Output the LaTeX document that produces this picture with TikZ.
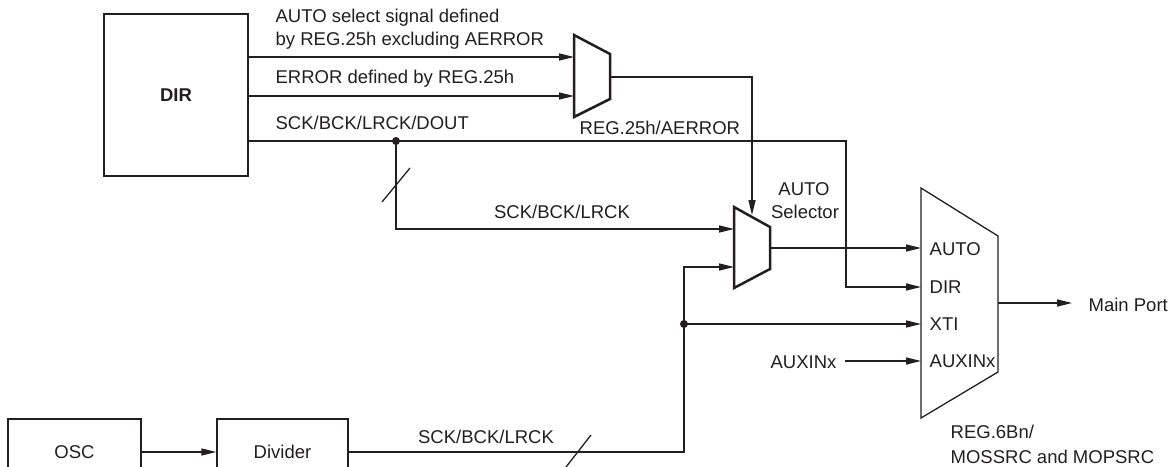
\documentclass[tikz,border=0pt]{standalone}
\usepackage{fontspec}
\setmainfont{Liberation Sans}
\usetikzlibrary{arrows.meta}
\definecolor{ink}{RGB}{35,31,32}
\begin{document}
\begin{tikzpicture}[x=1pt,y=-1pt,draw=ink,line width=1.3pt,
  every node/.style={font=\fontsize{18.5}{23}\selectfont,text=ink,inner sep=0pt},
  lbl/.style={anchor=base west},
  blk/.style={draw=ink,line width=1.5pt,minimum width=#1,minimum height=66pt},
  arr/.style={-{Triangle[length=15pt,width=7pt]}},
  muxthick/.style={line width=2.5pt,line join=miter},
  muxthin/.style={line width=1.3pt,line join=miter},
  slash/.style={line width=1.3pt}]
\clip (0,0) rectangle (1172,466);
\fill[white] (0,0) rectangle (1172,466);

% blocks
\node[draw=ink,line width=2.4pt,minimum width=144pt,minimum height=162pt,font=\fontsize{18.5}{23}\selectfont\bfseries] (DIR) at (176,95) {DIR};
\node[blk=133pt] (OSC) at (74.5,452) {\raisebox{-2pt}{OSC}};
\node[blk=131pt] (DIV) at (282.5,452) {\raisebox{-2pt}{Divider}};

% multiplexers
\draw[muxthick] (574,35) -- (610,54) -- (610,99) -- (574,117) -- cycle;
\draw[muxthick] (734,207) -- (770,227) -- (770,269) -- (734,288) -- cycle;
\draw[muxthin] (921,188) -- (998,236) -- (998,372) -- (921,418) -- cycle;

% ports
\coordinate (m1in1) at (574,57);
\coordinate (m1in2) at (574,96);
\coordinate (m1out) at (610,77);
\coordinate (m2in1) at (734,229);
\coordinate (m2in2) at (734,267);
\coordinate (m2out) at (770,248);
\coordinate (m2top) at (752,215);
\coordinate (m3auto) at (921,248);
\coordinate (m3dir) at (921,287);
\coordinate (m3xti) at (921,324);
\coordinate (m3aux) at (921,361);
\coordinate (m3out) at (998,303);
\coordinate (j1) at (396,141);
\coordinate (j2) at (684,324);
\coordinate (mainend) at (1072,303);

% labels
\node[lbl] (t1) at (275,22) {AUTO select signal defined};
\node[lbl] (t2) at (275,45) {by REG.25h excluding AERROR};
\node[lbl] (t3) at (275,83) {ERROR defined by REG.25h};
\node[lbl] (t4) at (275,129) {SCK/BCK/LRCK/DOUT};
\node[lbl] (t5) at (579,134) {REG.25h/AERROR};
\node[anchor=base] (t6) at (804,195) {AUTO};
\node[anchor=base] (t7) at (805,218) {Selector};
\node[anchor=base] (t8) at (562,218) {SCK/BCK/LRCK};
\node[anchor=base] (t9) at (486,443) {SCK/BCK/LRCK};
\node[lbl] (p1) at (929,255) {AUTO};
\node[lbl] (p2) at (929,293) {DIR};
\node[lbl] (p3) at (929,330) {XTI};
\node[lbl] (p4) at (929,367) {AUXINx};
\node[anchor=base east] (aux) at (837,368) {AUXINx};
\node[lbl] (mp) at (1088,311) {Main Port};
\node[lbl] (r1) at (950,438) {REG.6Bn/};
\node[lbl] (r2) at (950,463) {MOSSRC and MOPSRC};

% connectors
\draw[arr] (DIR.east |- m1in1) -- (m1in1);
\draw[arr] (DIR.east |- m1in2) -- (m1in2);
\draw[arr] (DIR.east |- j1) -- (846,141) -- (846,287) -- (m3dir);
\draw[arr] (j1) -- (j1 |- m2in1) -- (m2in1);
\draw[arr] (m1out) -- (m2top |- m1out) -- (m2top);
\draw[arr] (m2out) -- (m3auto);
\draw[arr] (DIV.east) -- (j2 |- DIV.east) -- (j2 |- m2in2) -- (m2in2);
\draw[arr] (j2) -- (m3xti);
\draw[arr] ([xshift=8pt]aux.east |- m3aux) -- (m3aux);
\draw[arr] (m3out) -- (mainend);
\draw[arr] (OSC.east) -- (DIV.west);
\fill[ink] (j1) circle (4pt);
\fill[ink] (j2) circle (4pt);

% bus slashes
\draw[slash] (382,202) -- (410,168);
\draw[slash] (566,467) -- (591,435);
\end{tikzpicture}
\end{document}
